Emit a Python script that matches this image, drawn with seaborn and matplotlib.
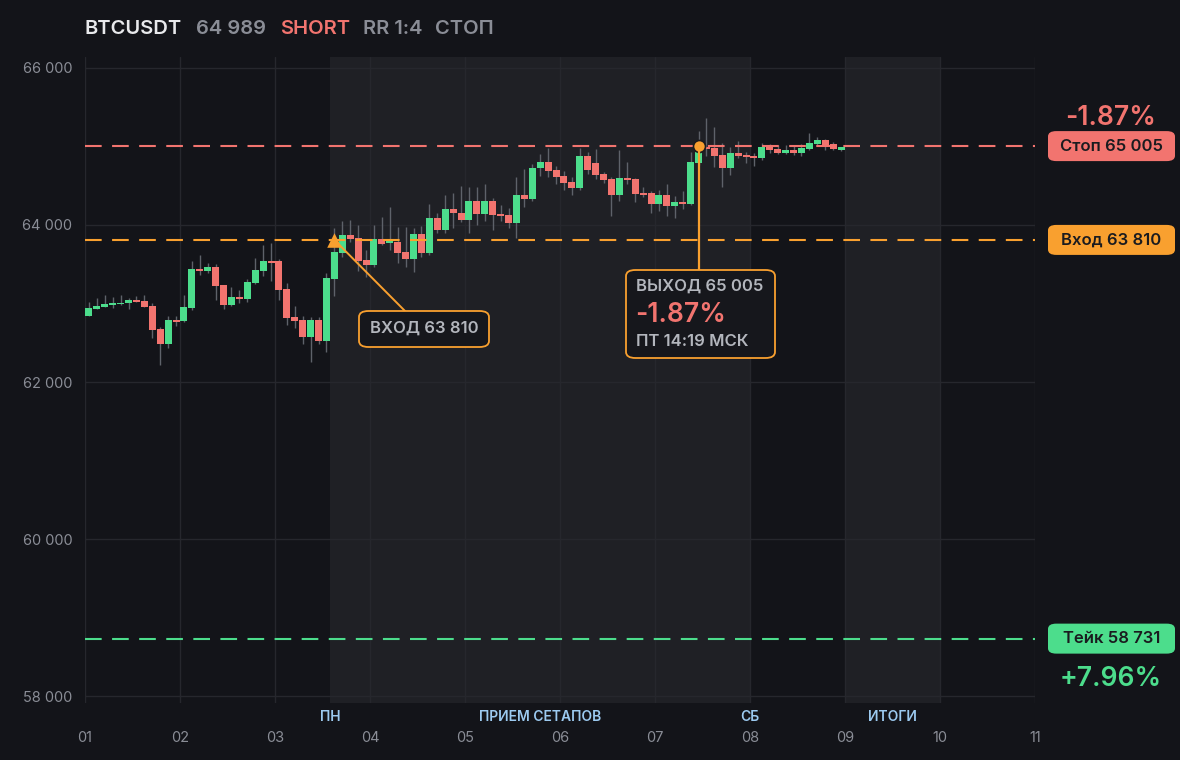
import matplotlib
matplotlib.use("Agg")
import matplotlib.pyplot as plt
from matplotlib.patches import FancyBboxPatch
import seaborn as sns
import numpy as np
import pandas as pd

# ---------------- data ----------------
opens = [62845, 62935, 62960, 62985, 62990, 63000, 63045, 63030, 62970, 62675,
         62485, 62790, 62775, 62945, 63440, 63420, 63465, 63235, 62985, 63085,
         63055, 63260, 63420, 63540, 63540, 63185, 62830, 62790, 62575, 62790,
         62525, 63310, 63645, 63875, 63835, 63555, 63495, 63820, 63770, 63785,
         63650, 63570, 63885, 63645, 64090, 63930, 64205, 64155, 64065, 64305,
         64140, 64305, 64140, 64125, 64025, 64380, 64330, 64730, 64805, 64700,
         64625, 64550, 64470, 64880, 64790, 64650, 64585, 64380, 64600, 64585,
         64410, 64410, 64270, 64380, 64240, 64295, 64270, 64790, 64995, 64980,
         64890, 64725, 64915, 64890, 64880, 64855, 64995, 64970, 64915, 64955,
         64915, 64970, 65030, 65085, 65030, 64955]
highs = [63025, 63070, 63110, 63085, 63110, 63075, 63095, 63110, 63005, 62705,
         62840, 62840, 63110, 63540, 63620, 63515, 63505, 63235, 63210, 63170,
         63310, 63580, 63745, 63770, 63565, 63260, 62970, 62840, 62830, 62830,
         63390, 63960, 64050, 64065, 64000, 63680, 64000, 64100, 64235, 63980,
         63980, 63960, 63985, 64270, 64155, 64380, 64410, 64495, 64485, 64485,
         64520, 64345, 64255, 64215, 64610, 64715, 64780, 64905, 64985, 64750,
         64690, 64610, 64980, 64930, 64970, 64675, 64610, 64955, 64805, 64600,
         64490, 64430, 64445, 64520, 64370, 64435, 64930, 65195, 65365, 65250,
         65045, 64995, 65070, 64930, 64915, 65045, 65030, 65020, 65020, 65000,
         65030, 65170, 65120, 65100, 65060, 64990]
lows = [62845, 62930, 62950, 62945, 62985, 62930, 63015, 62955, 62560, 62215,
        62435, 62715, 62765, 62915, 63365, 63390, 63045, 62930, 62970, 63005,
        63025, 63250, 63350, 63285, 63045, 62725, 62690, 62485, 62255, 62485,
        62380, 63095, 63595, 63785, 63420, 63340, 63470, 63750, 63680, 63520,
        63470, 63405, 63595, 63620, 63900, 63900, 63960, 64040, 63900, 64000,
        64055, 63935, 64055, 63960, 63840, 64235, 64300, 64625, 64615, 64520,
        64445, 64380, 64445, 64650, 64585, 64535, 64115, 64305, 64520, 64295,
        64360, 64155, 64180, 64115, 64090, 64205, 64255, 64770, 64880, 64740,
        64485, 64635, 64850, 64790, 64750, 64830, 64915, 64900, 64900, 64890,
        64880, 64950, 65020, 64960, 64950, 64940]
closes = [62940, 62970, 62995, 63010, 63010, 63045, 63025, 62955, 62660, 62485,
          62790, 62765, 62955, 63440, 63420, 63465, 63225, 62980, 63085, 63055,
          63275, 63425, 63540, 63515, 63170, 62815, 62775, 62575, 62790, 62525,
          63325, 63660, 63875, 63825, 63545, 63495, 63820, 63760, 63790, 63645,
          63570, 63885, 63645, 64090, 63930, 64205, 64155, 64065, 64305, 64140,
          64305, 64125, 64115, 64025, 64380, 64330, 64730, 64805, 64690, 64610,
          64535, 64470, 64880, 64700, 64635, 64575, 64380, 64600, 64575, 64395,
          64380, 64270, 64380, 64240, 64295, 64270, 64805, 64930, 64970, 64880,
          64725, 64915, 64880, 64865, 64855, 64995, 64955, 64915, 64955, 64915,
          64980, 65045, 65085, 65020, 64970, 64989]

candles_per_day = 12
day_ticks = [1, 2, 3, 4, 5, 6, 7, 8, 9, 10, 11]
day_tick_labels = ["01", "02", "03", "04", "05", "06", "07", "08", "09", "10", "11"]
price_ticks = [58000, 60000, 62000, 64000, 66000]

entry_price = 63810
stop_price = 65005
take_price = 58731
entry_idx = 31
exit_idx = 77
exit_price = 65005

title_parts = ["BTCUSDT", "64 989", "SHORT", "RR 1:4", "СТОП"]
stop_pct = "-1.87%"
take_pct = "+7.96%"
exit_lines = ["ВЫХОД 65 005", "-1.87%", "ПТ 14:19 МСК"]
entry_label = "ВХОД 63 810"
pill_labels = ["Стоп 65 005", "Вход 63 810", "Тейк 58 731"]

sessions = [(3 + 7 / 12, 8.0), (9.0, 10.0)]
session_labels = [("ПН", 3 + 7 / 12), ("ПРИЕМ СЕТАПОВ", (3 + 7 / 12 + 8.0) / 2),
                  ("СБ", 8.0), ("ИТОГИ", 9.5)]

# ---------------- style ----------------
BG = "#131419"
BAND = "#1f2025"
GRID = "#26272d"
TXT = "#8a8d96"
UP = "#4cdd8c"
DOWN = "#f2746f"
ORANGE = "#f9a02f"
RED = "#f2746f"
GREEN = "#4cdd8c"

sns.set_style("dark", {"axes.facecolor": BG, "figure.facecolor": BG})
plt.rcParams["font.family"] = ["Inter", "DejaVu Sans"]

df = pd.DataFrame({"open": opens, "high": highs, "low": lows, "close": closes})
df["x"] = 1 + (np.arange(len(df)) + 0.5) / candles_per_day
df["up"] = df["close"] >= df["open"]

W, H = 1180, 760
fig = plt.figure(figsize=(W / 100, H / 100), dpi=100, facecolor=BG)
ax = fig.add_axes([85 / W, 1 - 703 / H, 950 / W, 646 / H])
ax.set_facecolor(BG)
ax.set_xlim(1, 11)
ax.set_ylim(57911, 66140)
for s in ax.spines.values():
    s.set_visible(False)

for a, b in sessions:
    ax.axvspan(a, b, color=BAND, lw=0, zorder=0)

for d in day_ticks:
    ax.axvline(d, color=GRID, lw=1, zorder=1)
for p in price_ticks:
    ax.axhline(p, color=GRID, lw=1, zorder=1)
ax.grid(False)

# candles
ax.vlines(df["x"], df["low"], df["high"], color="#5e626a", lw=1, zorder=2)
body_bottom = np.minimum(df["open"], df["close"])
body_h = np.maximum(np.abs(df["close"] - df["open"]), 22)
colors = [UP if u else DOWN for u in df["up"]]
ax.bar(df["x"], body_h, bottom=body_bottom, width=0.88 / candles_per_day,
       color=colors, lw=0, zorder=3)

# levels
ax.axhline(stop_price, color=RED, lw=1.5, ls=(0, (8, 5)), zorder=4)
ax.axhline(entry_price, color=ORANGE, lw=1.5, ls=(0, (8, 5)), zorder=4)
ax.axhline(take_price, color=GREEN, lw=1.5, ls=(0, (8, 5)), zorder=4)

entry_x = 1 + (entry_idx + 0.5) / candles_per_day
exit_x = 1 + (exit_idx + 0.5) / candles_per_day

# ticks
ax.set_xticks(day_ticks)
ax.set_xticklabels(day_tick_labels)
ax.set_yticks(price_ticks)
ax.set_yticklabels([f"{p:,.0f}".replace(",", " ") for p in price_ticks])
ax.tick_params(axis="both", length=0, colors=TXT, labelsize=10.5)
ax.tick_params(axis="y", pad=9)
ax.tick_params(axis="x", pad=20)

# helpers: data -> figure pixel coords (top-left origin)
fig.canvas.draw()
def to_px(x, y):
    dx, dy = ax.transData.transform((x, y))
    return dx, H - dy

def fx(px):
    return px / W

def fy(py):
    return 1 - py / H

# connector lines (figure coords)
ex_px, ey_px = to_px(entry_x, entry_price)
fig.add_artist(plt.Line2D([fx(ex_px), fx(405)], [fy(ey_px), fy(311)], color=ORANGE, lw=1.4, zorder=5))
xx_px, xy_px = to_px(exit_x, exit_price)
fig.add_artist(plt.Line2D([fx(xx_px), fx(xx_px)], [fy(xy_px), fy(270)], color=ORANGE, lw=1.6, zorder=5))

# markers via seaborn
mk = pd.DataFrame({"x": [entry_x], "y": [entry_price]})
sns.scatterplot(data=mk, x="x", y="y", marker="^", s=110, color=ORANGE,
                edgecolor=ORANGE, linewidth=0, ax=ax, zorder=6)
mk2 = pd.DataFrame({"x": [exit_x], "y": [exit_price]})
sns.scatterplot(data=mk2, x="x", y="y", marker="o", s=75, color=ORANGE,
                edgecolor="#1b1b1f", linewidth=1.2, ax=ax, zorder=6)
ax.set_xlabel("")
ax.set_ylabel("")

# entry box
fig.add_artist(FancyBboxPatch((fx(359), fy(347)), fx(130), 36 / H,
                              boxstyle="round,pad=0,rounding_size=0.008",
                              transform=fig.transFigure, fc="#16171c", ec=ORANGE, lw=1.3, zorder=7))
fig.text(fx(424), fy(328), entry_label, ha="center", va="center", color="#b3b6bd",
         fontsize=12, fontweight="semibold", zorder=8)

# exit box
fig.add_artist(FancyBboxPatch((fx(626), fy(358)), fx(149), 88 / H,
                              boxstyle="round,pad=0,rounding_size=0.008",
                              transform=fig.transFigure, fc="#16171c", ec=ORANGE, lw=1.3, zorder=7))
fig.text(fx(636), fy(286), exit_lines[0], ha="left", va="center", color="#b3b6bd",
         fontsize=12, fontweight="semibold", zorder=8)
fig.text(fx(635), fy(315), exit_lines[1], ha="left", va="center", color=RED,
         fontsize=19, fontweight="semibold", zorder=8)
fig.text(fx(636), fy(341), exit_lines[2], ha="left", va="center", color="#b3b6bd",
         fontsize=12, fontweight="semibold", zorder=8)

# right pills
pill_colors = [RED, ORANGE, GREEN]
pill_prices = [stop_price, entry_price, take_price]
for lab, col, pr in zip(pill_labels, pill_colors, pill_prices):
    _, py = to_px(11, pr)
    fig.add_artist(FancyBboxPatch((fx(1048), fy(py + 15)), fx(127), 30 / H,
                                  boxstyle="round,pad=0,rounding_size=0.007",
                                  transform=fig.transFigure, fc=col, ec="none", zorder=7))
    fig.text(fx(1111.5), fy(py), lab, ha="center", va="center", color="#1a1b1f",
             fontsize=12, fontweight="semibold", zorder=8)

_, sp = to_px(11, stop_price)
fig.text(fx(1111), fy(sp - 28), stop_pct, ha="center", va="center", color=RED,
         fontsize=19, fontweight="semibold")
_, tp = to_px(11, take_price)
fig.text(fx(1111), fy(tp + 40), take_pct, ha="center", va="center", color=GREEN,
         fontsize=19, fontweight="semibold")

# session labels
for lab, xv in session_labels:
    px, _ = to_px(xv, 60000)
    fig.text(fx(px), fy(717), lab, ha="center", va="center", color="#9ccaf0",
             fontsize=10, fontweight="semibold")

# title
title_x = [85, 196, 280, 363, 435]
title_colors = ["#e8e9ec", TXT, RED, TXT, TXT]
for t, x0, c in zip(title_parts, title_x, title_colors):
    fig.text(fx(x0), fy(29), t, ha="left", va="center", color=c,
             fontsize=14.5, fontweight="semibold")

fig.savefig("out.png", dpi=100, facecolor=BG)
